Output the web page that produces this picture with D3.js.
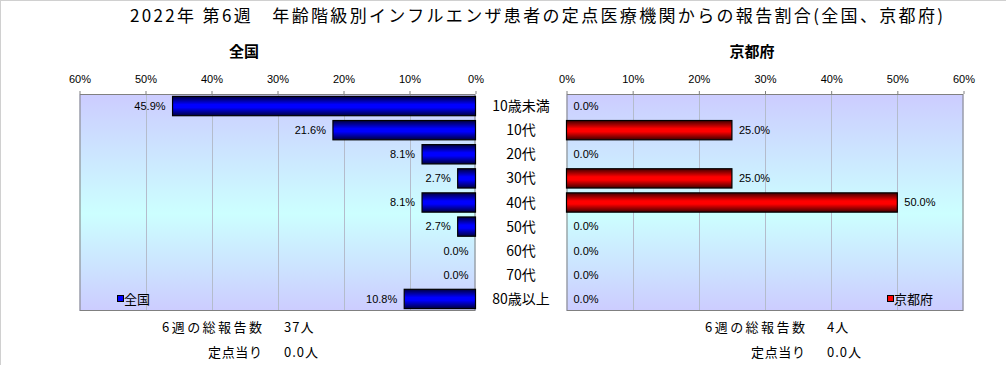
<!DOCTYPE html>
<html>
<head>
<meta charset="utf-8">
<script src="https://cdn.jsdelivr.net/npm/d3@7"></script>
<style>
  html, body { margin: 0; padding: 0; background: #fff; }
  svg { display: block; font-family: "Noto Sans CJK JP", "Noto Sans", sans-serif; }
</style>
</head>
<body>
<svg id="chart" width="1006" height="365"></svg>
<script>
const title = "2022年 第6週\u3000年齢階級別インフルエンザ患者の定点医療機関からの報告割合(全国、京都府)";
const categories = ["10歳未満", "10代", "20代", "30代", "40代", "50代", "60代", "70代", "80歳以上"];
const nationalValues = [45.9, 21.6, 8.1, 2.7, 8.1, 2.7, 0.0, 0.0, 10.8];
const kyotoValues = [0.0, 25.0, 0.0, 25.0, 50.0, 0.0, 0.0, 0.0, 0.0];
const tickValues = [0, 10, 20, 30, 40, 50, 60];
const panelNames = ["全国", "京都府"];
const totalLabel = "6週の総報告数";
const perPointLabel = "定点当り";
const totals = ["37人", "4人"];
const perPoint = ["0.0人", "0.0人"];

const svg = d3.select("#chart");
const defs = svg.append("defs");

// frame lines
svg.append("line").attr("x1", 0).attr("x2", 1006).attr("y1", 0.5).attr("y2", 0.5).attr("stroke", "#d0d0d0");
svg.append("line").attr("x1", 0.5).attr("x2", 0.5).attr("y1", 0).attr("y2", 365).attr("stroke", "#d0d0d0");

// gradients
const bg = defs.append("linearGradient").attr("id", "bg").attr("x1", 0).attr("x2", 0).attr("y1", 0).attr("y2", 1);
[[0, "#ccccff"], [0.55, "#ccffff"], [1, "#ccccff"]].forEach(([o, c]) => bg.append("stop").attr("offset", o).attr("stop-color", c));
function barGrad(id, dark, bright) {
  const g = defs.append("linearGradient").attr("id", id).attr("x1", 0).attr("x2", 0).attr("y1", 0).attr("y2", 1);
  [[0, dark], [0.42, bright], [0.58, bright], [1, dark]].forEach(([o, c]) => g.append("stop").attr("offset", o).attr("stop-color", c));
}
barGrad("blueGrad", "#000040", "#0000ff");
barGrad("redGrad", "#400000", "#ff0000");

// title
svg.append("text").attr("x", 130).attr("y", 22)
  .attr("font-size", 17).attr("fill", "#000")
  .attr("textLength", 813).attr("lengthAdjust", "spacing").text(title);

const plotTop = 94, plotBottom = 311;
const y = d3.scaleBand().domain(categories).range([plotTop, plotBottom]).paddingInner(0.2).paddingOuter(0.1);

const panels = [
  { name: panelNames[0], values: nationalValues, x: d3.scaleLinear().domain([0, 60]).range([475.5, 79.5]), fill: "url(#blueGrad)", legendColor: "#0000ff", dir: -1, cx: 244, total: totals[0], per: perPoint[0], footX: 262, legendX: 117 },
  { name: panelNames[1], values: kyotoValues, x: d3.scaleLinear().domain([0, 60]).range([566.5, 963.5]), fill: "url(#redGrad)", legendColor: "#ff0000", dir: 1, cx: 752, total: totals[1], per: perPoint[1], footX: 805, legendX: 887 }
];

panels.forEach(p => {
  const [r0, r1] = p.x.range();
  const xl = Math.min(r0, r1), xr = Math.max(r0, r1);
  const g = svg.append("g");
  // background
  g.append("rect").attr("x", xl).attr("y", plotTop).attr("width", xr - xl).attr("height", plotBottom - plotTop).attr("fill", "url(#bg)");
  // gridlines
  g.selectAll(".grid").data(tickValues.filter(t => t !== 0 && t !== 60)).join("line")
    .attr("x1", d => Math.round(p.x(d)) + 0.5).attr("x2", d => Math.round(p.x(d)) + 0.5)
    .attr("y1", plotTop).attr("y2", plotBottom).attr("stroke", "#b4bccc").attr("stroke-width", 1);
  // axis
  const axis = d3.axisTop(p.x).tickValues(tickValues).tickFormat(d => d + "%").tickSize(3).tickPadding(8);
  const ag = g.append("g").attr("transform", `translate(0,${plotTop})`).call(axis);
  ag.select(".domain").remove();
  ag.selectAll(".tick line").attr("stroke", "#808080");
  ag.selectAll(".tick text").attr("font-size", 11).attr("fill", "#000")
    .attr("font-family", "'Liberation Sans', sans-serif");
  // border
  g.append("rect").attr("x", xl + 0.5).attr("y", plotTop + 0.5).attr("width", xr - xl - 1).attr("height", plotBottom - plotTop - 1)
    .attr("fill", "none").attr("stroke", "#808080");
  // bars
  g.selectAll(".bar").data(p.values.map((v, i) => ({ v, c: categories[i] }))).join("rect")
    .filter(d => d.v > 0)
    .attr("x", d => Math.min(p.x(0), p.x(d.v)))
    .attr("y", d => y(d.c))
    .attr("width", d => Math.abs(p.x(d.v) - p.x(0)))
    .attr("height", y.bandwidth())
    .attr("fill", p.fill).attr("stroke", "#000").attr("stroke-width", 1.2);
  // value labels
  g.selectAll(".lbl").data(p.values.map((v, i) => ({ v, c: categories[i] }))).join("text")
    .attr("x", d => p.x(d.v) + p.dir * 7)
    .attr("y", d => y(d.c) + y.bandwidth() / 2)
    .attr("dy", "0.35em")
    .attr("text-anchor", p.dir < 0 ? "end" : "start")
    .attr("font-size", 11).attr("font-family", "'Liberation Sans', sans-serif")
    .attr("fill", "#000")
    .text(d => d.v.toFixed(1) + "%");
  // panel title
  svg.append("text").attr("x", p.cx).attr("y", 57).attr("text-anchor", "middle")
    .attr("font-size", 15).attr("font-weight", "bold").text(p.name);
  // legend
  const lg = svg.append("g").attr("transform", `translate(${p.legendX},299)`);
  lg.append("rect").attr("x", 0.5).attr("y", -3.5).attr("width", 6).attr("height", 6)
    .attr("fill", p.legendColor).attr("stroke", "#000").attr("stroke-width", 1);
  lg.append("text").attr("x", 7).attr("y", 0).attr("dy", "0.38em").attr("font-size", 13).text(p.name);
  // footer
  svg.append("text").attr("x", p.footX - 100).attr("y", 332).attr("font-size", 13)
    .attr("textLength", 100).attr("lengthAdjust", "spacing").text(totalLabel);
  svg.append("text").attr("x", p.footX + 22).attr("y", 332).attr("font-size", 13).attr("letter-spacing", 1).text(p.total);
  svg.append("text").attr("x", p.footX - 54).attr("y", 357).attr("font-size", 13)
    .attr("textLength", 54).attr("lengthAdjust", "spacing").text(perPointLabel);
  svg.append("text").attr("x", p.footX + 22).attr("y", 357).attr("font-size", 13).attr("letter-spacing", 1).text(p.per);
});

// category labels
svg.selectAll(".cat").data(categories).join("text")
  .attr("x", 521).attr("y", d => y(d) + y.bandwidth() / 2).attr("dy", "0.36em")
  .attr("text-anchor", "middle").attr("font-size", 14).attr("fill", "#000").text(d => d);
</script>
</body>
</html>
